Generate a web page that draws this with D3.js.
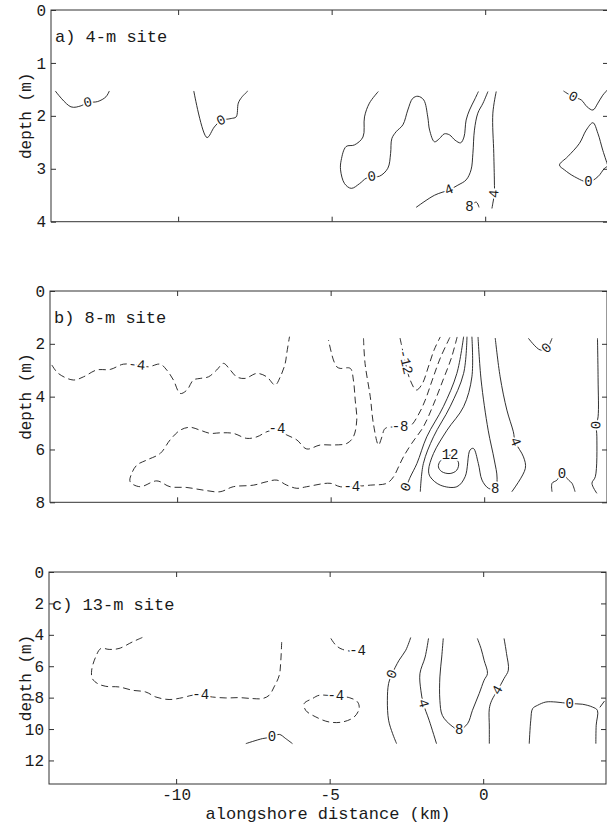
<!DOCTYPE html>
<html>
<head>
<meta charset="utf-8">
<script src="https://cdn.jsdelivr.net/npm/d3@7"></script>
<style>
  body { margin: 0; background: #fff; }
  svg { display: block; }
</style>
</head>
<body>
<svg id="chart" width="607" height="824"></svg>
<script>
// ---- axes ----
const xDomain = [-14.14, 4];
const xTicks = [-10, -5, 0];
const depthMaxA = 4, depthMaxB = 8, depthMaxC = 13.5;
const depthTicksA = [0, 1, 2, 3, 4];
const depthTicksB = [0, 2, 4, 6, 8];
const depthTicksC = [0, 2, 4, 6, 8, 10, 12];
const panelTitles = ["a) 4-m site", "b) 8-m site", "c) 13-m site"];

// ---- contour lines: [alongshore km, depth m, optional label, optional fixed label angle] ----
// a) 4-m site
const a_zeroWest = [[-14.0,1.53],[-13.49,1.83],[-13.16,1.81],[-12.94,1.75,"0"],[-12.62,1.73],[-12.35,1.64],[-12.24,1.53]];
const a_zeroMid = [[-9.49,1.53],[-9.06,2.41],[-8.82,2.21],[-8.60,2.09,"0"],[-8.27,2.05],[-8.11,2.02],[-8.04,1.76],[-7.93,1.65],[-7.73,1.53]];
const a_zeroEast = [[-3.48,1.54],[-3.77,1.76],[-3.93,2.02],[-3.98,2.40],[-4.26,2.55],[-4.53,2.58],[-4.69,2.84],[-4.71,3.02],[-4.58,3.28],[-4.36,3.37],[-4.09,3.28],[-3.88,3.18],[-3.69,3.15,"0"],[-3.44,3.14],[-3.17,2.99],[-3.08,2.71],[-3.04,2.43],[-2.90,2.30],[-2.68,2.17],[-2.52,1.89],[-2.36,1.67],[-2.19,1.63],[-2.00,1.70],[-1.87,2.02],[-1.81,2.27],[-1.65,2.49],[-1.49,2.43],[-1.33,2.34],[-1.16,2.36],[-0.98,2.46],[-0.80,2.51],[-0.69,2.40],[-0.62,2.08],[-0.51,1.89],[-0.35,1.70],[-0.22,1.54]];
const a_four = [[-2.25,3.73],[-1.65,3.50],[-1.18,3.40,"4"],[-0.89,3.31],[-0.62,3.21],[-0.46,3.02],[-0.40,2.71],[-0.35,2.27],[-0.24,1.95],[-0.07,1.76],[0.09,1.54]];
const a_eight = [[-0.51,3.72,"8",0],[-0.29,3.63],[-0.20,3.73]];
const a_fourEast = [[0.36,1.54],[0.25,1.95],[0.28,2.71],[0.30,3.25],[0.30,3.47,"4"],[0.25,3.65],[0.22,3.75]];
const a_zeroNE = [[2.55,1.53],[2.86,1.64,"0"],[3.13,1.70],[3.32,1.83],[3.51,1.89],[3.67,1.76],[3.83,1.61],[4.0,1.50]];
const a_zeroSE = [[4.0,2.95],[3.83,2.65],[3.67,2.33],[3.51,2.13],[3.29,2.27],[3.07,2.52],[2.69,2.77],[2.42,2.93],[2.58,3.02],[2.91,3.15],[3.36,3.25,"0"],[3.67,3.15],[3.89,2.99],[4.0,2.95]];

// b) 8-m site
const b_minus4West = [[-14.08,2.80],[-13.87,3.12],[-13.38,3.37],[-13.05,3.25],[-12.62,2.99],[-12.18,2.97],[-11.75,2.77],[-11.31,2.80,"-4"],[-10.94,2.87],[-10.55,2.77],[-10.34,2.99],[-10.12,3.37],[-9.90,3.88],[-9.68,3.75],[-9.47,3.37],[-9.25,3.31],[-8.98,3.25],[-8.71,2.99],[-8.49,2.74],[-8.27,2.99],[-8.06,3.25],[-7.79,3.31],[-7.40,3.12],[-7.08,3.25],[-6.81,3.56],[-6.64,3.25],[-6.48,2.74],[-6.43,2.36],[-6.34,1.73]];
const b_minus4 = [[-0.88,1.74],[-1.07,2.54],[-1.34,3.37],[-1.66,4.32],[-1.98,5.14],[-2.36,5.77],[-2.63,6.28],[-2.79,6.66],[-2.95,7.03],[-3.17,7.28],[-3.71,7.35],[-4.31,7.41,"-4",0],[-4.69,7.41],[-5.02,7.28],[-5.78,7.41],[-6.10,7.47],[-6.43,7.35],[-6.75,7.16],[-7.08,7.22],[-7.51,7.35],[-8.17,7.41],[-8.60,7.60],[-9.14,7.54],[-9.68,7.44],[-10.23,7.41],[-10.66,7.19],[-11.21,7.41],[-11.53,7.22],[-11.48,6.91],[-11.31,6.59],[-10.99,6.40],[-10.55,6.15],[-10.23,5.64],[-9.90,5.27],[-9.58,5.16],[-9.25,5.27],[-8.92,5.39],[-8.60,5.37],[-8.17,5.39],[-7.73,5.58],[-7.40,5.52],[-7.08,5.33],[-6.75,5.24,"-4",0],[-6.43,5.45],[-6.10,5.64],[-5.78,5.98],[-5.34,5.83],[-4.91,5.83],[-4.47,5.77],[-4.26,5.52],[-4.15,4.89],[-4.20,4.13],[-4.26,3.37],[-4.36,2.93],[-4.69,2.93],[-4.80,2.87],[-4.91,2.61],[-5.07,1.86]];
const b_minus8 = [[-3.93,1.79],[-3.88,2.74],[-3.71,4.00],[-3.61,5.01],[-3.44,5.83],[-3.33,5.52],[-3.22,5.20],[-2.74,5.15,"-8",0],[-2.41,5.11],[-2.15,4.70],[-1.92,4.13],[-1.69,3.37],[-1.43,2.54],[-1.11,1.74]];
const b_minus12 = [[-2.74,1.78],[-2.57,2.69,"-12"],[-2.41,3.37],[-2.21,3.75],[-2.02,3.52],[-1.82,2.88],[-1.63,2.23],[-1.43,1.74]];
const b_zero = [[-0.67,1.73],[-0.89,3.12],[-1.33,4.38],[-1.87,5.52],[-2.19,6.53],[-2.41,7.05],[-2.54,7.42,"0"]];
const b_fourWest = [[-0.56,1.73],[-0.67,3.12],[-1.11,4.38],[-1.65,5.52],[-1.98,6.53],[-2.08,7.60]];
const b_eight = [[-0.40,1.73],[-0.40,3.25],[-0.67,4.38],[-1.21,5.27],[-1.65,6.15],[-1.81,6.78],[-1.76,7.03],[-1.43,7.35],[-0.89,7.41],[-0.62,7.03],[-0.46,6.02],[-0.35,5.96],[-0.19,6.53],[-0.07,7.16],[0.14,7.47],[0.36,7.50,"8",0],[0.42,7.08],[0.33,6.40],[0.13,5.27],[-0.10,3.37],[-0.20,1.74]];
const b_twelve = [[-1.11,6.21,"12",0],[-0.84,6.48],[-0.89,6.78],[-1.11,6.91],[-1.38,6.84],[-1.49,6.66],[-1.43,6.44],[-1.11,6.21]];
const b_fourEast = [[0.36,1.78],[0.52,3.25],[0.74,4.51],[0.95,5.33],[1.01,5.71,"4"],[1.28,6.28],[1.34,6.72],[0.90,7.60]];
const b_zeroTop = [[1.44,1.79],[1.82,2.23],[2.04,2.17,"0"],[2.21,1.79]];
const b_zeroBottom = [[2.21,7.60],[2.21,7.28],[2.37,7.16],[2.53,6.91,"0",0],[2.75,7.16],[2.86,7.28],[2.96,7.60]];
const b_zeroEast = [[3.69,1.79],[3.71,3.37],[3.71,4.76],[3.65,5.08,"0"],[3.67,5.52],[3.62,7.03],[3.51,7.28],[3.67,7.66]];

// c) 13-m site
const c_minus4West = [[-11.10,4.17],[-11.42,4.45],[-11.86,4.87],[-12.18,4.93],[-12.45,4.87],[-12.62,5.41],[-12.75,6.25],[-12.73,6.78],[-12.56,7.10],[-12.29,7.28],[-11.86,7.32],[-11.42,7.53],[-10.99,7.64],[-10.66,7.96],[-10.23,8.12],[-9.79,8.00],[-9.47,7.85],[-9.20,7.85,"-4",0],[-8.82,7.96],[-8.38,8.02],[-7.95,8.00],[-7.51,8.06],[-7.19,8.06],[-6.97,7.85],[-6.81,7.32],[-6.64,6.57],[-6.59,5.62],[-6.56,4.34]];
const c_zeroWest = [[-7.73,10.93],[-7.19,10.61],[-6.88,10.51,"0",0],[-6.64,10.34],[-6.43,10.61],[-6.21,10.93]];
const c_minus4Mid = [[-4.96,4.23],[-4.80,4.66],[-4.58,4.93],[-4.09,5.02,"-4",0],[-3.88,4.55]];
const c_minus4Loop = [[-4.80,7.91,"-4",0],[-4.36,8.00],[-4.09,8.28],[-4.04,8.70],[-4.20,9.23],[-4.58,9.55],[-5.02,9.55],[-5.45,9.23],[-5.78,8.81],[-5.83,8.38],[-5.56,8.06],[-5.34,7.85],[-4.80,7.91]];
const c_zeroMid = [[-2.36,4.17],[-2.52,4.98],[-2.74,5.62],[-2.97,6.51,"0"],[-3.08,7.10],[-3.12,8.17],[-3.08,9.44],[-2.95,10.29],[-2.82,10.93]];
const c_fourMid = [[-1.78,4.23],[-1.89,5.41],[-2.06,6.47],[-2.03,7.53],[-1.95,8.38,"4"],[-1.76,9.44],[-1.52,10.93]];
const c_eight = [[-1.30,4.23],[-1.35,5.41],[-1.41,6.68],[-1.41,8.17],[-1.33,9.13],[-1.05,9.76],[-0.78,10.04,"8",0],[-0.51,9.66],[-0.35,8.81],[-0.13,7.74],[0.03,6.89],[0.14,6.46],[0.03,5.62],[-0.07,4.87],[-0.19,4.23]];
const c_fourEast = [[0.68,4.23],[0.76,5.19],[0.82,6.25],[0.68,6.78],[0.47,7.53,"4"],[0.28,8.17],[0.20,8.70],[0.20,9.87],[0.20,10.93]];
const c_zeroEast = [[1.50,10.93],[1.55,9.44],[1.61,8.70],[1.77,8.49],[2.04,8.28],[2.37,8.28],[2.82,8.38,"0",0],[3.23,8.42],[3.56,8.60],[3.72,8.81],[3.68,9.76],[3.67,10.93]];
const c_zeroEdge = [[3.80,8.62],[3.95,8.22]];

// level < 0 drawn dashed
const contoursA = [
  {level: 0, line: a_zeroWest}, {level: 0, line: a_zeroMid}, {level: 0, line: a_zeroEast},
  {level: 4, line: a_four}, {level: 8, line: a_eight}, {level: 4, line: a_fourEast},
  {level: 0, line: a_zeroNE}, {level: 0, line: a_zeroSE}
];
const contoursB = [
  {level: -4, line: b_minus4West}, {level: -4, line: b_minus4}, {level: -8, line: b_minus8},
  {level: -12, line: b_minus12}, {level: 0, line: b_zero}, {level: 4, line: b_fourWest},
  {level: 8, line: b_eight}, {level: 12, line: b_twelve}, {level: 4, line: b_fourEast},
  {level: 0, line: b_zeroTop}, {level: 0, line: b_zeroBottom}, {level: 0, line: b_zeroEast}
];
const contoursC = [
  {level: -4, line: c_minus4West}, {level: 0, line: c_zeroWest}, {level: -4, line: c_minus4Mid},
  {level: -4, line: c_minus4Loop}, {level: 0, line: c_zeroMid}, {level: 4, line: c_fourMid},
  {level: 8, line: c_eight}, {level: 4, line: c_fourEast}, {level: 0, line: c_zeroEast},
  {level: 0, line: c_zeroEdge}
];

// ---- layout ----
const FONT = '"Liberation Mono", "DejaVu Sans Mono", monospace';
const INK = "#1a1a1a";
const panels = [
  {title: panelTitles[0], depthMax: depthMaxA, ticks: depthTicksA, contours: contoursA,
   left: 51, right: 608, top: 10, bottom: 221.7, titleX: 55, titleY: 37, xLabels: false},
  {title: panelTitles[1], depthMax: depthMaxB, ticks: depthTicksB, contours: contoursB,
   left: 50, right: 607, top: 291, bottom: 502.3, titleX: 54, titleY: 318, xLabels: false},
  {title: panelTitles[2], depthMax: depthMaxC, ticks: depthTicksC, contours: contoursC,
   left: 49, right: 606, top: 572, bottom: 784, titleX: 52, titleY: 605, xLabels: true}
];

const svg = d3.select("#chart");
svg.append("rect").attr("width", 607).attr("height", 824).attr("fill", "#fff");

panels.forEach((p, i) => {
  const x = d3.scaleLinear().domain(xDomain).range([p.left, p.right]);
  const y = d3.scaleLinear().domain([0, p.depthMax]).range([p.top, p.bottom]);
  const g = svg.append("g");

  const clipId = "clip" + i;
  svg.append("clipPath").attr("id", clipId)
    .append("rect").attr("x", p.left).attr("y", p.top)
    .attr("width", p.right - p.left).attr("height", p.bottom - p.top);

  // inward ticks on all four sides
  const tickLen = 5;
  const axes = [
    {ax: d3.axisBottom(x).tickValues(xTicks).tickSizeInner(-tickLen).tickSizeOuter(0).tickPadding(5)
        .tickFormat(p.xLabels ? (d => String(d)) : () => ""), t: `translate(0,${p.bottom})`},
    {ax: d3.axisTop(x).tickValues(xTicks).tickSizeInner(-tickLen).tickSizeOuter(0).tickFormat(() => ""),
     t: `translate(0,${p.top})`},
    {ax: d3.axisLeft(y).tickValues(p.ticks).tickSizeInner(-tickLen).tickSizeOuter(0).tickPadding(5)
        .tickFormat(d => String(d)), t: `translate(${p.left},0)`},
    {ax: d3.axisRight(y).tickValues(p.ticks).tickSizeInner(-tickLen).tickSizeOuter(0).tickFormat(() => ""),
     t: `translate(${p.right},0)`}
  ];
  axes.forEach(a => {
    const ag = g.append("g").attr("transform", a.t).call(a.ax);
    ag.select(".domain").remove();
    ag.selectAll(".tick line").attr("stroke", INK).attr("stroke-width", 0.9);
    ag.selectAll(".tick text").attr("fill", INK).attr("font-family", FONT).attr("font-size", 16);
  });

  // frame
  g.append("rect")
    .attr("x", p.left).attr("y", p.top)
    .attr("width", p.right - p.left).attr("height", p.bottom - p.top)
    .attr("fill", "none").attr("stroke", "#333").attr("stroke-width", 1);

  // y axis title
  g.append("text")
    .attr("transform", `translate(27,${(p.top + p.bottom) / 2}) rotate(-90)`)
    .attr("text-anchor", "middle").attr("dominant-baseline", "central")
    .attr("font-family", FONT).attr("font-size", 16).attr("fill", INK)
    .text("depth (m)");

  // contours
  const cg = g.append("g").attr("clip-path", `url(#${clipId})`);
  const line = d3.line().x(d => x(d[0])).y(d => y(d[1])).curve(d3.curveCatmullRom.alpha(0.5));
  p.contours.forEach(c => {
    cg.append("path")
      .attr("d", line(c.line))
      .attr("fill", "none").attr("stroke", INK).attr("stroke-width", 0.9)
      .attr("stroke-dasharray", c.level < 0 ? "7,4" : null);
  });
  // contour labels (white halo breaks the line under the label)
  p.contours.forEach(c => {
    c.line.forEach((pt, k) => {
      if (pt[2] === undefined) return;
      let ang = pt[3];
      if (ang === undefined) {
        const a = c.line[Math.max(0, k - 1)], b = c.line[Math.min(c.line.length - 1, k + 1)];
        ang = Math.atan2(y(b[1]) - y(a[1]), x(b[0]) - x(a[0])) * 180 / Math.PI;
        if (ang > 90) ang -= 180;
        if (ang <= -90) ang += 180;
      }
      cg.append("text")
        .attr("transform", `translate(${x(pt[0])},${y(pt[1])}) rotate(${ang})`)
        .attr("text-anchor", "middle").attr("dominant-baseline", "central")
        .attr("font-family", FONT).attr("font-size", 14)
        .attr("fill", INK).attr("stroke", "#fff").attr("stroke-width", 3.5)
        .attr("paint-order", "stroke")
        .text(pt[2]);
    });
  });

  // panel title
  g.append("text")
    .attr("x", p.titleX).attr("y", p.titleY)
    .attr("dominant-baseline", "central")
    .attr("font-family", FONT).attr("font-size", 17).attr("fill", INK)
    .text(p.title);
});

// x axis title
svg.append("text")
  .attr("x", 328).attr("y", 814)
  .attr("text-anchor", "middle").attr("dominant-baseline", "central")
  .attr("font-family", FONT).attr("font-size", 17).attr("fill", INK)
  .text("alongshore distance (km)");
</script>
</body>
</html>
